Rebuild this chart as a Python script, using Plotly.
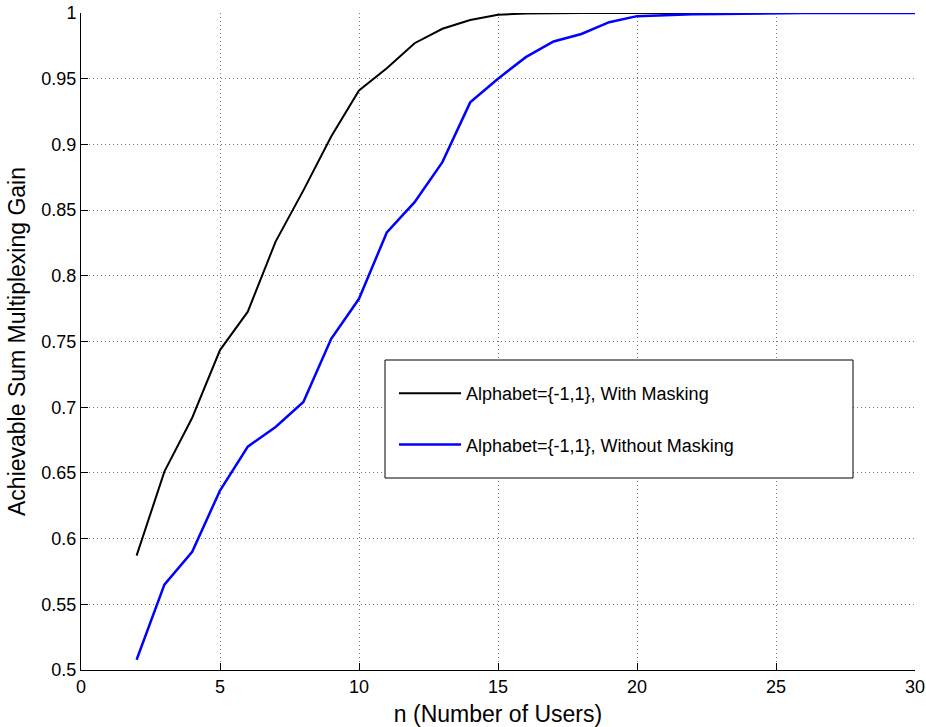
import plotly.graph_objects as go

n_users = list(range(2, 31))
with_masking = [0.587, 0.651, 0.692, 0.7435, 0.7727, 0.826, 0.865, 0.906, 0.941,
                0.958, 0.977, 0.988, 0.9947, 0.9986, 0.9997, 1.0, 1.0, 1.0, 1.0,
                1.0, 1.0, 1.0, 1.0, 1.0, 1.0, 1.0, 1.0, 1.0, 1.0]
without_masking = [0.5078, 0.565, 0.590, 0.6366, 0.670, 0.685, 0.704, 0.752, 0.7825,
                   0.833, 0.856, 0.8865, 0.932, 0.950, 0.9664, 0.9783, 0.984, 0.993,
                   0.9976, 0.9985, 0.999, 0.9993, 0.9997, 1.0, 1.0, 1.0, 1.0, 1.0, 1.0]

series_names = ["Alphabet={-1,1}, With Masking", "Alphabet={-1,1}, Without Masking"]
x_ticks = [0, 5, 10, 15, 20, 25, 30]
y_ticks = [0.5, 0.55, 0.6, 0.65, 0.7, 0.75, 0.8, 0.85, 0.9, 0.95, 1.0]
y_tick_labels = ["0.5", "0.55", "0.6", "0.65", "0.7", "0.75", "0.8", "0.85", "0.9", "0.95", "1"]

FONT = "Liberation Sans, Arial, Helvetica, sans-serif"

fig = go.Figure()
fig.add_trace(go.Scatter(x=n_users, y=with_masking, mode="lines", name=series_names[0],
                         line=dict(color="black", width=2), cliponaxis=False,
                         legendgroup="a"))
fig.add_trace(go.Scatter(x=n_users, y=without_masking, mode="lines", name=series_names[1],
                         line=dict(color="#0000ff", width=2.5), cliponaxis=False,
                         legendgroup="b"))

# plot area in page pixels
PX0, PX1, PY0, PY1 = 81, 915, 13, 670
W, H = PX1 - PX0, PY1 - PY0

# legend box
fig.add_shape(type="rect", xref="paper", yref="paper",
              x0=(385 - PX0) / W, x1=(853 - PX0) / W,
              y0=(PY1 - 478) / H, y1=(PY1 - 360) / H,
              fillcolor="white", line=dict(color="black", width=1), layer="above")

grid = dict(showgrid=True, gridcolor="#777777", griddash="1px,3px", gridwidth=1)

fig.update_layout(
    width=926, height=727,
    margin=dict(l=PX0, r=926 - PX1, t=PY0, b=727 - PY1),
    paper_bgcolor="white", plot_bgcolor="white",
    font=dict(family=FONT, size=18, color="black"),
    showlegend=True,
    legend=dict(x=(394 - PX0) / W, y=(PY1 - 375) / H, xanchor="left", yanchor="top",
                bgcolor="rgba(0,0,0,0)", borderwidth=0,
                font=dict(family=FONT, size=18, color="black"),
                tracegroupgap=25, itemwidth=62),
    xaxis=dict(range=[0, 30], tickvals=x_ticks, ticks="inside", ticklen=7,
               tickcolor="black", showline=True, linecolor="black", linewidth=1,
               zeroline=False, mirror=False, automargin=False,
               ticklabeloverflow="allow",
               tickfont=dict(family=FONT, size=18),
               title=dict(text="n (Number of Users)", standoff=13,
                          font=dict(family=FONT, size=23)), **grid),
    yaxis=dict(range=[0.5, 1.0], tickvals=y_ticks, ticktext=y_tick_labels,
               ticks="inside", ticklen=7, tickcolor="black",
               showline=True, linecolor="black", linewidth=1,
               zeroline=False, mirror=False, automargin=False,
               ticklabeloverflow="allow",
               tickfont=dict(family=FONT, size=18),
               title=dict(text="Achievable Sum Multiplexing Gain", standoff=9,
                          font=dict(family=FONT, size=23)), **grid),
)

fig.write_html("out.html", config={"displayModeBar": False},
               post_script="document.body.style.margin='0';"
                           "document.body.style.overflow='hidden';")
